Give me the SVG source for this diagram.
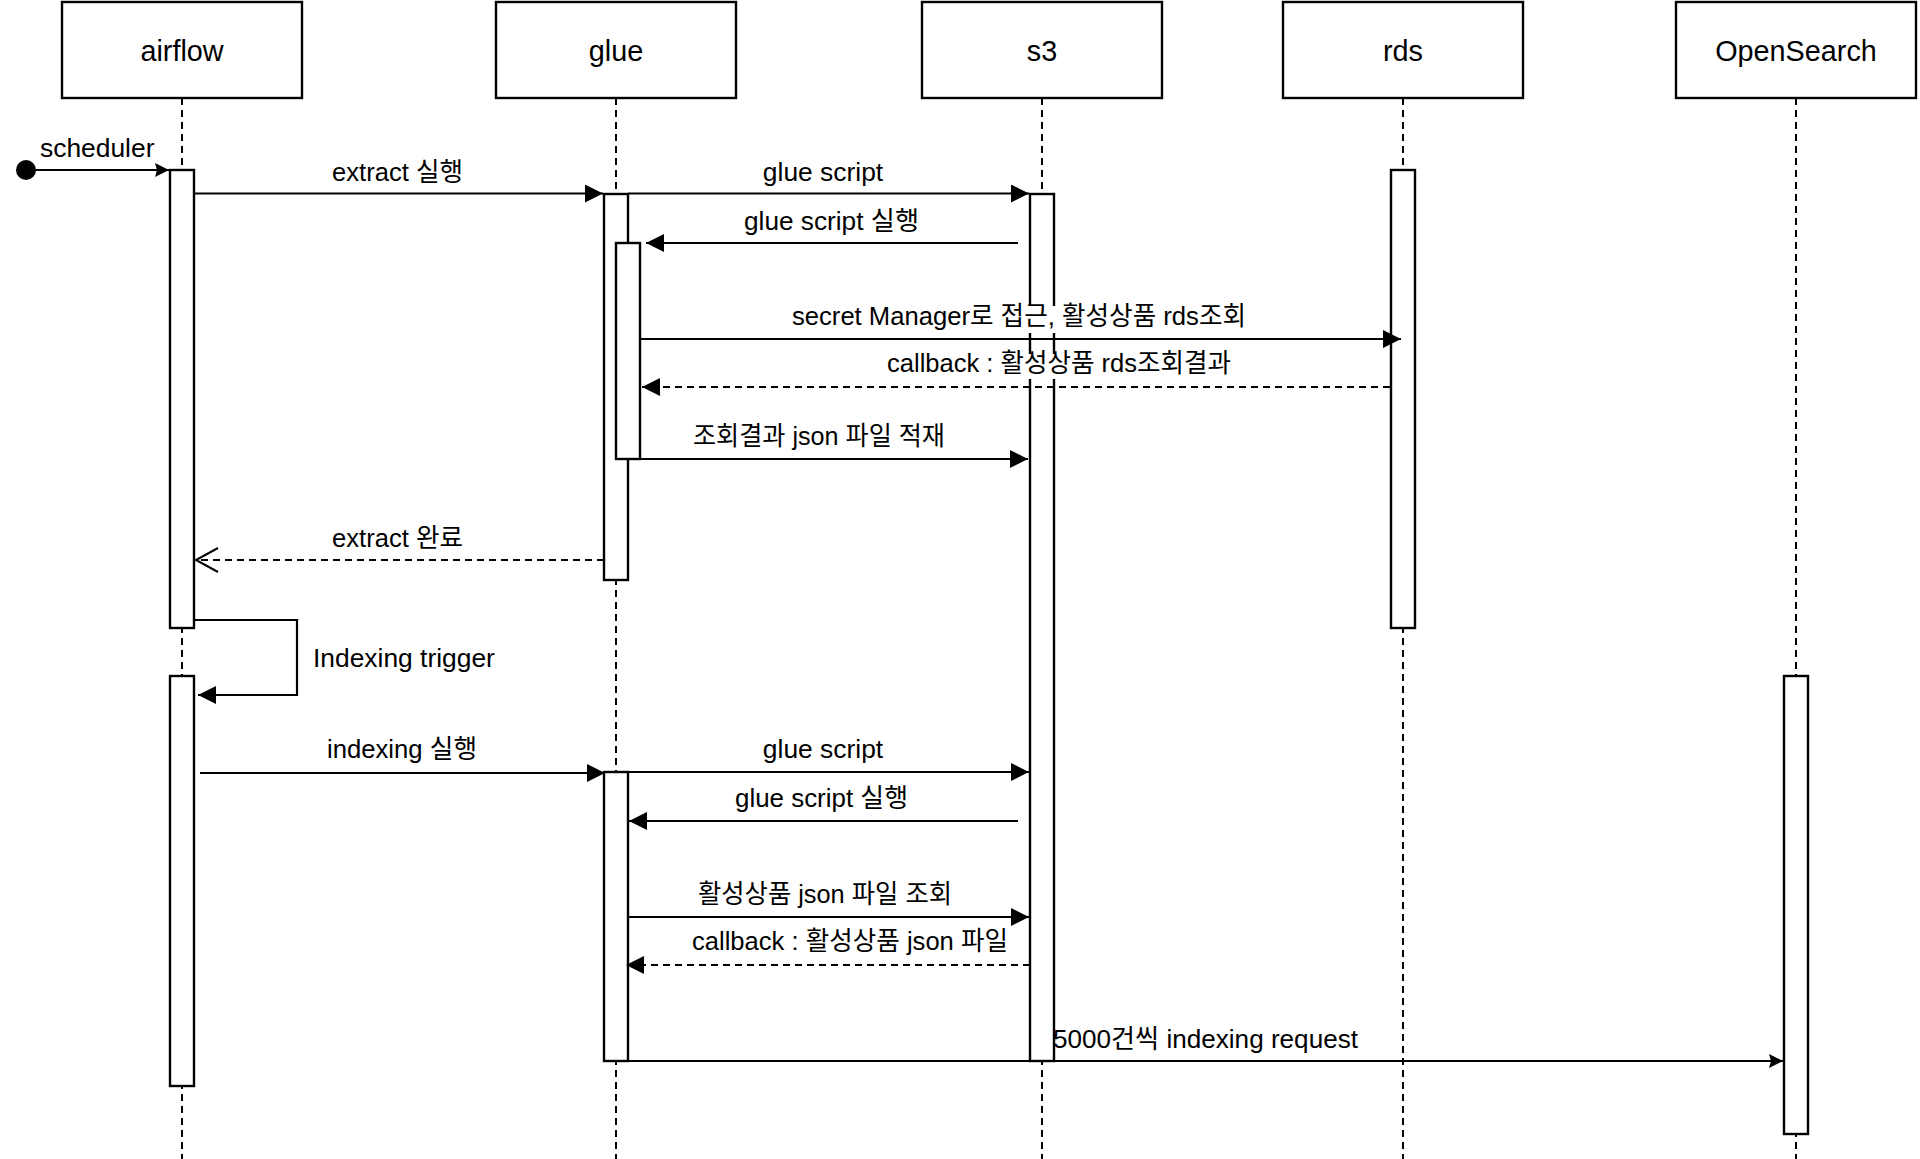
<svg xmlns="http://www.w3.org/2000/svg" width="1920" height="1159" viewBox="0 0 1920 1159">
<style>
.box{fill:#fff;stroke:#000;stroke-width:2.4}
.title{font-family:"Liberation Sans",Arial,"Noto Sans CJK KR",sans-serif;font-size:28.8px;fill:#000;text-anchor:middle}
.life{stroke:#000;stroke-width:2;stroke-dasharray:7 5;fill:none}
.bar{fill:#fff;stroke:#000;stroke-width:2.4}
.msg{stroke:#000;stroke-width:2.2;fill:none}
.dash{stroke-dasharray:7 5}
.lbl{font-family:"Liberation Sans",Arial,"Noto Sans CJK KR",sans-serif;font-size:26.4px;fill:#000;text-anchor:middle}
.start{text-anchor:start}
.bg{fill:#fff}
</style>
<defs>
<marker id="block" markerUnits="userSpaceOnUse" markerWidth="20" markerHeight="20" refX="18" refY="9" orient="auto">
<path d="M0,0 L18,9 L0,18 Z" fill="#000"/>
</marker>
<marker id="small" markerUnits="userSpaceOnUse" markerWidth="16" markerHeight="18" refX="14" refY="8" orient="auto">
<path d="M0,1 L14,8 L0,15 L2,8 Z" fill="#000"/>
</marker>
<marker id="open" markerUnits="userSpaceOnUse" markerWidth="26" markerHeight="28" refX="23" refY="13" orient="auto">
<path d="M1,1 L23,13 L1,25" fill="none" stroke="#000" stroke-width="2"/>
</marker>
</defs>
<rect width="1920" height="1159" fill="#fff"/>

<g id="airflow">
<line class="life" x1="182" y1="98" x2="182" y2="1159"/>
<rect class="box" x="62" y="2" width="240" height="96"/>
<text class="title" x="182" y="61">airflow</text>
<rect class="bar" x="170" y="170" width="24" height="458"/>
<rect class="bar" x="170" y="676" width="24" height="410"/>
</g>

<g id="glue">
<line class="life" x1="616" y1="98" x2="616" y2="1159"/>
<rect class="box" x="496" y="2" width="240" height="96"/>
<text class="title" x="616" y="61">glue</text>
<rect class="bar" x="604" y="194" width="24" height="386"/>
<rect class="bar" x="616" y="243" width="24" height="216"/>
<rect class="bar" x="604" y="772" width="24" height="289"/>
</g>

<g id="s3">
<line class="life" x1="1042" y1="98" x2="1042" y2="1159"/>
<rect class="box" x="922" y="2" width="240" height="96"/>
<text class="title" x="1042" y="61">s3</text>
<rect class="bar" x="1030" y="194" width="24" height="867"/>
</g>

<g id="rds">
<line class="life" x1="1403" y1="98" x2="1403" y2="1159"/>
<rect class="box" x="1283" y="2" width="240" height="96"/>
<text class="title" x="1403" y="61">rds</text>
<rect class="bar" x="1391" y="170" width="24" height="458"/>
</g>

<g id="opensearch">
<line class="life" x1="1796" y1="98" x2="1796" y2="1159"/>
<rect class="box" x="1676" y="2" width="240" height="96"/>
<text class="title" x="1796" y="61">OpenSearch</text>
<rect class="bar" x="1784" y="676" width="24" height="458"/>
</g>

<g id="connectors">
<circle cx="26" cy="170" r="10" fill="#000"/>
<path class="msg" d="M26,170 L169,170" marker-end="url(#small)"/>
<text class="lbl start" x="40" y="157">scheduler</text>

<path class="msg" d="M194,193.5 L603,193.5" marker-end="url(#block)"/>
<text class="lbl" x="397.5" y="181" textLength="131" lengthAdjust="spacingAndGlyphs">extract 실행</text>

<path class="msg" d="M628,193.5 L1029,193.5" marker-end="url(#block)"/>
<text class="lbl" x="823" y="181">glue script</text>

<path class="msg" d="M1018,243 L646,243" marker-end="url(#block)"/>
<text class="lbl" x="831.5" y="230" textLength="175" lengthAdjust="spacingAndGlyphs">glue script 실행</text>

<path class="msg" d="M640,339 L1401,339" marker-end="url(#block)"/>
<rect class="bg" x="790" y="306" width="458" height="27"/>
<text class="lbl" x="1019" y="325" textLength="454" lengthAdjust="spacingAndGlyphs">secret Manager로 접근, 활성상품 rds조회</text>

<path class="msg dash" d="M1390,387 L642,387" marker-end="url(#block)"/>
<rect class="bg" x="885" y="354" width="348" height="25"/>
<text class="lbl" x="1059" y="372" textLength="344" lengthAdjust="spacingAndGlyphs">callback : 활성상품 rds조회결과</text>

<path class="msg" d="M640,459 L1028,459" marker-end="url(#block)"/>
<text class="lbl" x="819" y="445" textLength="252" lengthAdjust="spacingAndGlyphs">조회결과 json 파일 적재</text>

<path class="msg dash" d="M604,560 L196,560" marker-end="url(#open)"/>
<text class="lbl" x="397.5" y="547" textLength="131" lengthAdjust="spacingAndGlyphs">extract 완료</text>

<path class="msg" d="M194,620 L297,620 L297,695 L198,695" marker-end="url(#block)"/>
<text class="lbl start" x="313" y="667">Indexing trigger</text>

<path class="msg" d="M200,773 L605,773" marker-end="url(#block)"/>
<text class="lbl" x="402" y="758" textLength="150" lengthAdjust="spacingAndGlyphs">indexing 실행</text>

<path class="msg" d="M628,772 L1029,772" marker-end="url(#block)"/>
<text class="lbl" x="823" y="758">glue script</text>

<path class="msg" d="M1018,821 L629,821" marker-end="url(#block)"/>
<text class="lbl" x="821.5" y="807" textLength="173" lengthAdjust="spacingAndGlyphs">glue script 실행</text>

<path class="msg" d="M628,917 L1029,917" marker-end="url(#block)"/>
<text class="lbl" x="825" y="903" textLength="254" lengthAdjust="spacingAndGlyphs">활성상품 json 파일 조회</text>

<path class="msg dash" d="M1030,965 L626,965" marker-end="url(#block)"/>
<text class="lbl" x="850" y="950" textLength="316" lengthAdjust="spacingAndGlyphs">callback : 활성상품 json 파일</text>

<path class="msg" d="M604,1061 L1783,1061" marker-end="url(#small)"/>
<text class="lbl" x="1205.5" y="1048" textLength="305" lengthAdjust="spacingAndGlyphs">5000건씩 indexing request</text>
</g>
</svg>
